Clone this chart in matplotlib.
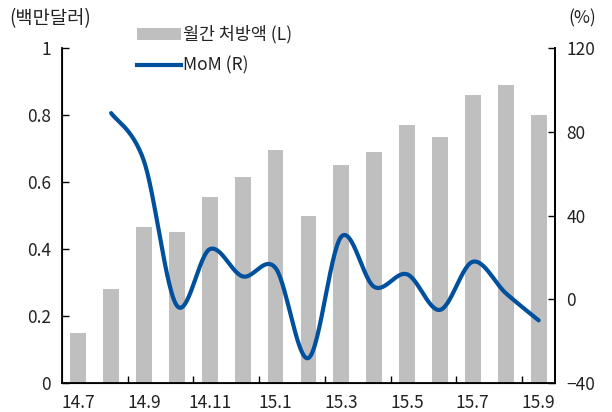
import matplotlib.pyplot as plt
import numpy as np
from matplotlib.patches import Patch
from matplotlib.lines import Line2D

plt.rcParams['font.family'] = ['Noto Sans CJK KR', 'DejaVu Sans']

months = ["14.7", "14.8", "14.9", "14.10", "14.11", "14.12", "15.1", "15.2",
          "15.3", "15.4", "15.5", "15.6", "15.7", "15.8", "15.9"]
sales = [0.15, 0.28, 0.465, 0.45, 0.555, 0.615, 0.695, 0.50,
         0.65, 0.69, 0.77, 0.735, 0.86, 0.89, 0.80]
mom_months = months[1:]
mom = [89, 66, -3, 24, 11, 15, -28, 30, 6, 12, -5, 18, 3, -10]

BAR_COLOR = "#BFBFBF"
LINE_COLOR = "#00509E"


def catmull_rom(x, y, n=30):
    # smooth like the spreadsheet "smoothed line" option
    x = np.asarray(x, float)
    y = np.asarray(y, float)
    px = np.concatenate([[x[0]], x, [x[-1]]])
    py = np.concatenate([[y[0]], y, [y[-1]]])
    xs, ys = [], []
    t = np.linspace(0, 1, n, endpoint=False)
    for i in range(1, len(px) - 2):
        for p, out in ((px, xs), (py, ys)):
            p0, p1, p2, p3 = p[i - 1], p[i], p[i + 1], p[i + 2]
            out.extend(0.5 * (2 * p1 + (-p0 + p2) * t
                              + (2 * p0 - 5 * p1 + 4 * p2 - p3) * t ** 2
                              + (-p0 + 3 * p1 - 3 * p2 + p3) * t ** 3))
    xs.append(x[-1])
    ys.append(y[-1])
    return np.array(xs), np.array(ys)


fig = plt.figure(figsize=(6.12, 4.12), dpi=100)
ax = fig.add_axes([0.101, 0.070, 0.806, 0.813])
x = np.arange(len(months))
ax.bar(x, sales, width=0.48, color=BAR_COLOR, zorder=1)
ax.set_xlim(-0.5, len(months) - 0.5)
ax.set_ylim(0, 1)
ax.set_yticks([0, 0.2, 0.4, 0.6, 0.8, 1.0])
ax.set_yticklabels(["0", "0.2", "0.4", "0.6", "0.8", "1"])
ax.set_xticks(x[::2])
ax.set_xticklabels(months[::2])
ax.set_xticks(np.arange(1.5, len(months) - 1, 2), minor=True)
ax.tick_params(axis="x", which="major", length=0, pad=8)
ax.tick_params(axis="x", which="minor", direction="in", length=5, width=1)
ax.tick_params(axis="y", direction="in", length=5, width=1, pad=8)
ax.tick_params(labelsize=12.5, labelcolor="#222222")
ax.spines["top"].set_visible(False)
for s in ("left", "bottom", "right"):
    ax.spines[s].set_linewidth(1.3)

ax2 = ax.twinx()
mx = [months.index(m) for m in mom_months]
sx, sy = catmull_rom(mx, mom)
ax2.plot(sx, sy, color=LINE_COLOR, linewidth=3.0, solid_capstyle="round")
ax2.set_ylim(-40, 120)
ax2.set_yticks([-40, 0, 40, 80, 120])
ax2.tick_params(axis="y", direction="in", length=5, width=1, pad=8,
                labelsize=12.5, labelcolor="#222222")
ax2.spines["top"].set_visible(False)
ax2.spines["right"].set_linewidth(1.3)

fig.text(0.015, 0.955, "(백만달러)", fontsize=13.5, color="#222222", va="center")
fig.text(0.928, 0.955, "(%)", fontsize=12.5, color="#222222", va="center")

handles = [Patch(facecolor=BAR_COLOR, edgecolor="none"),
           Line2D([], [], color=LINE_COLOR, linewidth=3.0)]
fig.legend(handles, ["월간 처방액 (L)", "MoM (R)"], loc="upper left",
           bbox_to_anchor=(0.21, 0.96), frameon=False, fontsize=12.5,
           handlelength=2.5, handletextpad=0.15, labelspacing=0.75,
           borderpad=0, labelcolor="#222222")

fig.savefig("out.png", dpi=100)
